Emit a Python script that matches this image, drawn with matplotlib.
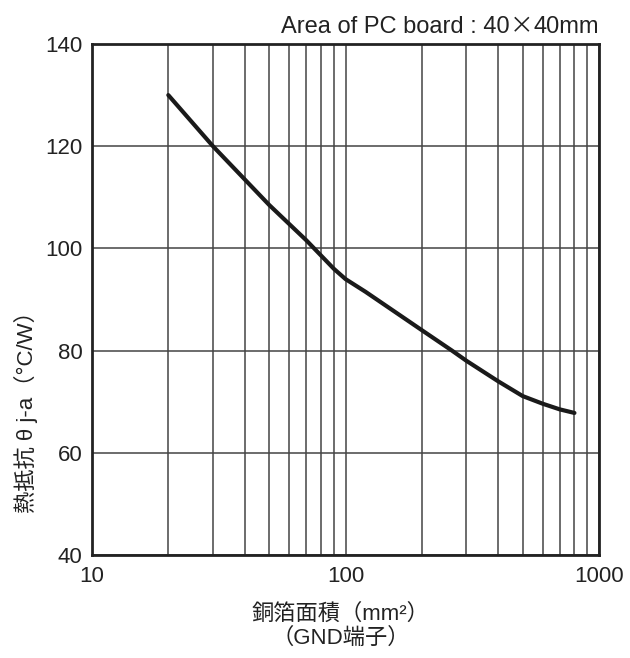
import numpy as np
import matplotlib.pyplot as plt
from matplotlib.ticker import LogLocator, NullFormatter
from matplotlib.offsetbox import TextArea, HPacker, AnchoredOffsetbox

plt.rcParams['font.family'] = ['Liberation Sans', 'Noto Sans CJK JP', 'DejaVu Sans']

# copper foil area (mm^2) vs thermal resistance (°C/W)
area = [20, 30, 50, 70, 90, 100, 120, 200, 263, 300, 400, 500, 600, 700, 800]
theta_ja = [130, 120, 108.5, 101.6, 96, 94, 91.5, 84, 80, 78, 74, 71.1, 69.6, 68.5, 67.8]

xticks = [10, 100, 1000]
yticks = [40, 60, 80, 100, 120, 140]

ink = '#222222'
fig = plt.figure(figsize=(6.3, 6.58), dpi=100)
ax = fig.add_axes([92 / 630, 1 - 555 / 658, 507 / 630, 511 / 658])

ax.plot(area, theta_ja, color='#1a1a1a', lw=3, solid_capstyle='round',
        solid_joinstyle='round')

ax.set_xscale('log')
ax.set_xlim(10, 1000)
ax.set_ylim(40, 140)
ax.set_xticks(xticks)
ax.set_xticklabels([str(v) for v in xticks])
ax.set_yticks(yticks)
ax.xaxis.set_minor_locator(LogLocator(base=10, subs=np.arange(2, 10)))
ax.xaxis.set_minor_formatter(NullFormatter())

ax.grid(True, which='both', axis='x', color='#444444', lw=1.1)
ax.grid(True, which='major', axis='y', color='#444444', lw=1.1)
ax.tick_params(which='both', length=0, labelsize=16, colors=ink)
ax.tick_params(axis='y', pad=7)
ax.tick_params(axis='x', pad=8)
for s in ax.spines.values():
    s.set_linewidth(2)
    s.set_color(ink)

ax.set_ylabel('熱抵抗 θ j-a（°C/W）', fontsize=16, color=ink)
ax.yaxis.set_label_coords(-0.106, 0.29)
ax.set_xlabel('銅箔面積（mm²）\n（GND端子）', fontsize=16, color=ink,
              linespacing=1.15)
ax.xaxis.set_label_coords(0.49, -0.096)

# title with a wide CJK multiplication sign
tp = dict(fontsize=17, color=ink)
parts = [TextArea('Area of PC board : 40', textprops=tp),
         TextArea('×', textprops=dict(tp, family='Noto Sans CJK JP')),
         TextArea('40mm', textprops=tp)]
title = HPacker(children=parts, align='baseline', pad=0, sep=0)
ab = AnchoredOffsetbox(loc='lower right', child=title, pad=0, borderpad=0,
                       frameon=False, bbox_to_anchor=(1.0, 1.012),
                       bbox_transform=ax.transAxes)
ax.add_artist(ab)

fig.savefig('out.png', dpi=100, facecolor='white')
